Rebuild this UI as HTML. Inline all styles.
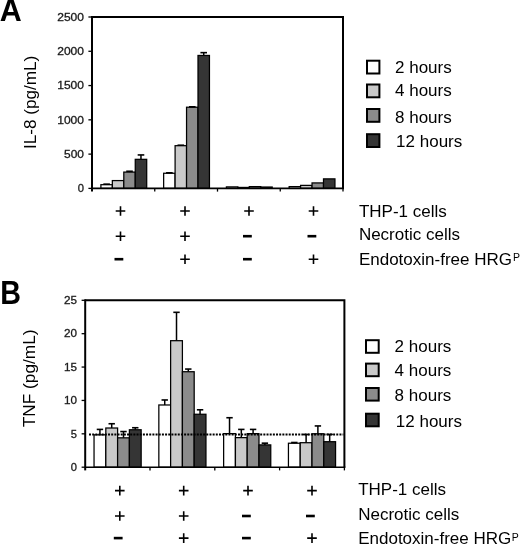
<!DOCTYPE html>
<html><head><meta charset="utf-8"><style>
html,body{margin:0;padding:0;background:#fff;}
body{width:520px;height:545px;overflow:hidden;}
svg{display:block;will-change:transform;}
text{font-family:"Liberation Sans",sans-serif;}
</style></head><body>
<svg width="520" height="545" viewBox="0 0 520 545">
<rect width="520" height="545" fill="#fff"/>
<rect x="100.9" y="184.7" width="11.45" height="3.7" fill="#ffffff" stroke="#000" stroke-width="1.25"/>
<line x1="106.62" y1="184.7" x2="106.62" y2="184.15" stroke="#000" stroke-width="1.5"/>
<line x1="103.33" y1="184.15" x2="109.92" y2="184.15" stroke="#000" stroke-width="1.6"/>
<rect x="112.35" y="180.58" width="11.45" height="7.82" fill="#c9c9c9" stroke="#000" stroke-width="1.25"/>
<rect x="123.8" y="172.08" width="11.45" height="16.32" fill="#8b8b8b" stroke="#000" stroke-width="1.25"/>
<line x1="129.53" y1="172.08" x2="129.53" y2="171.26" stroke="#000" stroke-width="1.5"/>
<line x1="126.23" y1="171.26" x2="132.83" y2="171.26" stroke="#000" stroke-width="1.6"/>
<rect x="135.25" y="159.33" width="11.45" height="29.07" fill="#353535" stroke="#000" stroke-width="1.25"/>
<line x1="140.97" y1="159.33" x2="140.97" y2="154.94" stroke="#000" stroke-width="1.5"/>
<line x1="137.67" y1="154.94" x2="144.28" y2="154.94" stroke="#000" stroke-width="1.6"/>
<rect x="163.65" y="173.25" width="11.45" height="15.15" fill="#ffffff" stroke="#000" stroke-width="1.25"/>
<line x1="169.38" y1="173.25" x2="169.38" y2="172.77" stroke="#000" stroke-width="1.5"/>
<line x1="166.07" y1="172.77" x2="172.68" y2="172.77" stroke="#000" stroke-width="1.6"/>
<rect x="175.1" y="145.69" width="11.45" height="42.71" fill="#c9c9c9" stroke="#000" stroke-width="1.25"/>
<line x1="180.82" y1="145.69" x2="180.82" y2="145.21" stroke="#000" stroke-width="1.5"/>
<line x1="177.52" y1="145.21" x2="184.12" y2="145.21" stroke="#000" stroke-width="1.6"/>
<rect x="186.55" y="107.22" width="11.45" height="81.18" fill="#8b8b8b" stroke="#000" stroke-width="1.25"/>
<line x1="192.28" y1="107.22" x2="192.28" y2="106.81" stroke="#000" stroke-width="1.5"/>
<line x1="188.97" y1="106.81" x2="195.58" y2="106.81" stroke="#000" stroke-width="1.6"/>
<rect x="198" y="55.46" width="11.45" height="132.94" fill="#353535" stroke="#000" stroke-width="1.25"/>
<line x1="203.72" y1="55.46" x2="203.72" y2="52.65" stroke="#000" stroke-width="1.5"/>
<line x1="200.42" y1="52.65" x2="207.03" y2="52.65" stroke="#000" stroke-width="1.6"/>
<rect x="226.4" y="186.89" width="11.45" height="1.51" fill="#ffffff" stroke="#000" stroke-width="1.25"/>
<rect x="237.85" y="187.44" width="11.45" height="0.96" fill="#c9c9c9" stroke="#000" stroke-width="1.25"/>
<rect x="249.3" y="186.62" width="11.45" height="1.78" fill="#8b8b8b" stroke="#000" stroke-width="1.25"/>
<rect x="260.75" y="187.03" width="11.45" height="1.37" fill="#353535" stroke="#000" stroke-width="1.25"/>
<rect x="289.15" y="186.62" width="11.45" height="1.78" fill="#ffffff" stroke="#000" stroke-width="1.25"/>
<rect x="300.6" y="185.38" width="11.45" height="3.02" fill="#c9c9c9" stroke="#000" stroke-width="1.25"/>
<rect x="312.05" y="182.92" width="11.45" height="5.48" fill="#8b8b8b" stroke="#000" stroke-width="1.25"/>
<rect x="323.5" y="178.87" width="11.45" height="9.53" fill="#353535" stroke="#000" stroke-width="1.25"/>
<path d="M92 17H343V188.4" fill="none" stroke="#000" stroke-width="2" stroke-linejoin="miter"/>
<line x1="92" y1="16" x2="92" y2="191.6" stroke="#000" stroke-width="2"/>
<line x1="92" y1="188.4" x2="344" y2="188.4" stroke="#000" stroke-width="1.6"/>
<line x1="154.75" y1="188.4" x2="154.75" y2="191.6" stroke="#000" stroke-width="1.3"/>
<line x1="217.5" y1="188.4" x2="217.5" y2="191.6" stroke="#000" stroke-width="1.3"/>
<line x1="280.25" y1="188.4" x2="280.25" y2="191.6" stroke="#000" stroke-width="1.3"/>
<line x1="343" y1="188.4" x2="343" y2="191.6" stroke="#000" stroke-width="1.3"/>
<line x1="88.4" y1="188.4" x2="92" y2="188.4" stroke="#000" stroke-width="1.3"/>
<text x="84" y="192.3" text-anchor="end" font-size="11" fill="#1a1a1a" stroke="#1a1a1a" stroke-width="0.3" textLength="6.25" lengthAdjust="spacingAndGlyphs">0</text>
<line x1="88.4" y1="154.12" x2="92" y2="154.12" stroke="#000" stroke-width="1.3"/>
<text x="84" y="158.02" text-anchor="end" font-size="11" fill="#1a1a1a" stroke="#1a1a1a" stroke-width="0.3" textLength="19.95" lengthAdjust="spacingAndGlyphs">500</text>
<line x1="88.4" y1="119.84" x2="92" y2="119.84" stroke="#000" stroke-width="1.3"/>
<text x="84" y="123.74" text-anchor="end" font-size="11" fill="#1a1a1a" stroke="#1a1a1a" stroke-width="0.3" textLength="26.8" lengthAdjust="spacingAndGlyphs">1000</text>
<line x1="88.4" y1="85.56" x2="92" y2="85.56" stroke="#000" stroke-width="1.3"/>
<text x="84" y="89.46" text-anchor="end" font-size="11" fill="#1a1a1a" stroke="#1a1a1a" stroke-width="0.3" textLength="26.8" lengthAdjust="spacingAndGlyphs">1500</text>
<line x1="88.4" y1="51.28" x2="92" y2="51.28" stroke="#000" stroke-width="1.3"/>
<text x="84" y="55.18" text-anchor="end" font-size="11" fill="#1a1a1a" stroke="#1a1a1a" stroke-width="0.3" textLength="26.8" lengthAdjust="spacingAndGlyphs">2000</text>
<line x1="88.4" y1="17" x2="92" y2="17" stroke="#000" stroke-width="1.3"/>
<text x="84" y="20.9" text-anchor="end" font-size="11" fill="#1a1a1a" stroke="#1a1a1a" stroke-width="0.3" textLength="26.8" lengthAdjust="spacingAndGlyphs">2500</text>
<text transform="translate(35.8 148.9) rotate(-90)" font-size="17" fill="#000" textLength="93.2" lengthAdjust="spacingAndGlyphs">IL-8 (pg/mL)</text>
<text transform="translate(-0.3 20.8) scale(0.97 1)" font-size="31.4" font-weight="bold" fill="#000">A</text>
<rect x="367" y="60.7" width="12.4" height="12.8" fill="#ffffff" stroke="#000" stroke-width="2"/>
<text x="395" y="73.1" font-size="17" fill="#000">2 hours</text>
<rect x="367" y="84.5" width="12.4" height="12.8" fill="#c9c9c9" stroke="#000" stroke-width="2"/>
<text x="395" y="96.1" font-size="17" fill="#000">4 hours</text>
<rect x="367" y="109" width="12.4" height="12.8" fill="#8b8b8b" stroke="#000" stroke-width="2"/>
<text x="395" y="122.5" font-size="17" fill="#000">8 hours</text>
<rect x="367" y="134.2" width="12.4" height="12.8" fill="#353535" stroke="#000" stroke-width="2"/>
<text x="396.1" y="147.4" font-size="17" fill="#000">12 hours</text>
<path d="M115.7 211H125.3M120.5 206.2V215.8" stroke="#000" stroke-width="1.6" fill="none"/>
<path d="M180.2 211H189.8M185 206.2V215.8" stroke="#000" stroke-width="1.6" fill="none"/>
<path d="M244.2 211H253.8M249 206.2V215.8" stroke="#000" stroke-width="1.6" fill="none"/>
<path d="M308.7 211H318.3M313.5 206.2V215.8" stroke="#000" stroke-width="1.6" fill="none"/>
<text x="358.9" y="217.3" font-size="17" fill="#000">THP-1 cells</text>
<path d="M115.7 236.2H125.3M120.5 231.4V241" stroke="#000" stroke-width="1.6" fill="none"/>
<path d="M180.2 236.2H189.8M185 231.4V241" stroke="#000" stroke-width="1.6" fill="none"/>
<rect x="243" y="234.9" width="8.8" height="2.6" fill="#000"/>
<rect x="307.5" y="234.9" width="8.8" height="2.6" fill="#000"/>
<text x="358.9" y="239.8" font-size="17" fill="#000">Necrotic cells</text>
<rect x="114.5" y="257.9" width="8.8" height="2.6" fill="#000"/>
<path d="M180.2 259.2H189.8M185 254.4V264" stroke="#000" stroke-width="1.6" fill="none"/>
<rect x="243" y="257.9" width="8.8" height="2.6" fill="#000"/>
<path d="M308.7 259.2H318.3M313.5 254.4V264" stroke="#000" stroke-width="1.6" fill="none"/>
<text x="358.9" y="265.3" font-size="17" fill="#000">Endotoxin-free HRG<tspan font-size="10.5" dx="1" dy="-3.9">P</tspan></text>
<rect x="94.04" y="434.82" width="11.78" height="32.38" fill="#ffffff" stroke="#000" stroke-width="1.25"/>
<line x1="99.93" y1="434.82" x2="99.93" y2="429.41" stroke="#000" stroke-width="1.5"/>
<line x1="96.73" y1="429.41" x2="103.13" y2="429.41" stroke="#000" stroke-width="1.6"/>
<rect x="105.82" y="428.01" width="11.78" height="39.19" fill="#c9c9c9" stroke="#000" stroke-width="1.25"/>
<line x1="111.71" y1="428.01" x2="111.71" y2="423.74" stroke="#000" stroke-width="1.5"/>
<line x1="108.51" y1="423.74" x2="114.91" y2="423.74" stroke="#000" stroke-width="1.6"/>
<rect x="117.6" y="437.83" width="11.78" height="29.37" fill="#8b8b8b" stroke="#000" stroke-width="1.25"/>
<line x1="123.49" y1="437.83" x2="123.49" y2="431.55" stroke="#000" stroke-width="1.5"/>
<line x1="120.29" y1="431.55" x2="126.69" y2="431.55" stroke="#000" stroke-width="1.6"/>
<rect x="129.38" y="429.75" width="11.78" height="37.45" fill="#353535" stroke="#000" stroke-width="1.25"/>
<line x1="135.27" y1="429.75" x2="135.27" y2="427.74" stroke="#000" stroke-width="1.5"/>
<line x1="132.07" y1="427.74" x2="138.47" y2="427.74" stroke="#000" stroke-width="1.6"/>
<rect x="158.84" y="404.98" width="11.78" height="62.22" fill="#ffffff" stroke="#000" stroke-width="1.25"/>
<line x1="164.73" y1="404.98" x2="164.73" y2="399.97" stroke="#000" stroke-width="1.5"/>
<line x1="161.53" y1="399.97" x2="167.93" y2="399.97" stroke="#000" stroke-width="1.6"/>
<rect x="170.62" y="340.69" width="11.78" height="126.51" fill="#c9c9c9" stroke="#000" stroke-width="1.25"/>
<line x1="176.51" y1="340.69" x2="176.51" y2="312.32" stroke="#000" stroke-width="1.5"/>
<line x1="173.31" y1="312.32" x2="179.71" y2="312.32" stroke="#000" stroke-width="1.6"/>
<rect x="182.4" y="371.73" width="11.78" height="95.47" fill="#8b8b8b" stroke="#000" stroke-width="1.25"/>
<line x1="188.29" y1="371.73" x2="188.29" y2="369.06" stroke="#000" stroke-width="1.5"/>
<line x1="185.09" y1="369.06" x2="191.49" y2="369.06" stroke="#000" stroke-width="1.6"/>
<rect x="194.18" y="414.26" width="11.78" height="52.94" fill="#353535" stroke="#000" stroke-width="1.25"/>
<line x1="200.07" y1="414.26" x2="200.07" y2="409.79" stroke="#000" stroke-width="1.5"/>
<line x1="196.87" y1="409.79" x2="203.27" y2="409.79" stroke="#000" stroke-width="1.6"/>
<rect x="223.64" y="433.62" width="11.78" height="33.58" fill="#ffffff" stroke="#000" stroke-width="1.25"/>
<line x1="229.53" y1="433.62" x2="229.53" y2="417.73" stroke="#000" stroke-width="1.5"/>
<line x1="226.33" y1="417.73" x2="232.73" y2="417.73" stroke="#000" stroke-width="1.6"/>
<rect x="235.42" y="437.63" width="11.78" height="29.57" fill="#c9c9c9" stroke="#000" stroke-width="1.25"/>
<line x1="241.31" y1="437.63" x2="241.31" y2="429.41" stroke="#000" stroke-width="1.5"/>
<line x1="238.11" y1="429.41" x2="244.51" y2="429.41" stroke="#000" stroke-width="1.6"/>
<rect x="247.2" y="433.62" width="11.78" height="33.58" fill="#8b8b8b" stroke="#000" stroke-width="1.25"/>
<line x1="253.09" y1="433.62" x2="253.09" y2="429.41" stroke="#000" stroke-width="1.5"/>
<line x1="249.89" y1="429.41" x2="256.29" y2="429.41" stroke="#000" stroke-width="1.6"/>
<rect x="258.98" y="444.9" width="11.78" height="22.3" fill="#353535" stroke="#000" stroke-width="1.25"/>
<line x1="264.87" y1="444.9" x2="264.87" y2="443.17" stroke="#000" stroke-width="1.5"/>
<line x1="261.67" y1="443.17" x2="268.07" y2="443.17" stroke="#000" stroke-width="1.6"/>
<rect x="288.44" y="443.23" width="11.78" height="23.97" fill="#ffffff" stroke="#000" stroke-width="1.25"/>
<line x1="294.33" y1="443.23" x2="294.33" y2="442.5" stroke="#000" stroke-width="1.5"/>
<line x1="291.13" y1="442.5" x2="297.53" y2="442.5" stroke="#000" stroke-width="1.6"/>
<rect x="300.22" y="442.7" width="11.78" height="24.5" fill="#c9c9c9" stroke="#000" stroke-width="1.25"/>
<line x1="306.11" y1="442.7" x2="306.11" y2="434.49" stroke="#000" stroke-width="1.5"/>
<line x1="302.91" y1="434.49" x2="309.31" y2="434.49" stroke="#000" stroke-width="1.6"/>
<rect x="312" y="433.75" width="11.78" height="33.45" fill="#8b8b8b" stroke="#000" stroke-width="1.25"/>
<line x1="317.89" y1="433.75" x2="317.89" y2="425.94" stroke="#000" stroke-width="1.5"/>
<line x1="314.69" y1="425.94" x2="321.09" y2="425.94" stroke="#000" stroke-width="1.6"/>
<rect x="323.78" y="441.7" width="11.78" height="25.5" fill="#353535" stroke="#000" stroke-width="1.25"/>
<line x1="329.67" y1="441.7" x2="329.67" y2="434.42" stroke="#000" stroke-width="1.5"/>
<line x1="326.47" y1="434.42" x2="332.87" y2="434.42" stroke="#000" stroke-width="1.6"/>
<line x1="89" y1="434.4" x2="343.4" y2="434.4" stroke="#000" stroke-width="2" stroke-dasharray="2 1.17"/>
<path d="M85.2 300.3H344.4V467.2" fill="none" stroke="#000" stroke-width="2" stroke-linejoin="miter"/>
<line x1="85.2" y1="299.3" x2="85.2" y2="470.4" stroke="#000" stroke-width="2"/>
<line x1="85.2" y1="467.2" x2="345.4" y2="467.2" stroke="#000" stroke-width="1.6"/>
<line x1="150" y1="467.2" x2="150" y2="470.4" stroke="#000" stroke-width="1.3"/>
<line x1="214.8" y1="467.2" x2="214.8" y2="470.4" stroke="#000" stroke-width="1.3"/>
<line x1="279.6" y1="467.2" x2="279.6" y2="470.4" stroke="#000" stroke-width="1.3"/>
<line x1="344.4" y1="467.2" x2="344.4" y2="470.4" stroke="#000" stroke-width="1.3"/>
<line x1="81.6" y1="467.2" x2="85.2" y2="467.2" stroke="#000" stroke-width="1.3"/>
<text x="76.9" y="470.9" text-anchor="end" font-size="11" fill="#1a1a1a" stroke="#1a1a1a" stroke-width="0.3" textLength="6.2" lengthAdjust="spacingAndGlyphs">0</text>
<line x1="81.6" y1="433.82" x2="85.2" y2="433.82" stroke="#000" stroke-width="1.3"/>
<text x="76.9" y="437.52" text-anchor="end" font-size="11" fill="#1a1a1a" stroke="#1a1a1a" stroke-width="0.3" textLength="6.2" lengthAdjust="spacingAndGlyphs">5</text>
<line x1="81.6" y1="400.44" x2="85.2" y2="400.44" stroke="#000" stroke-width="1.3"/>
<text x="76.9" y="404.14" text-anchor="end" font-size="11" fill="#1a1a1a" stroke="#1a1a1a" stroke-width="0.3" textLength="13" lengthAdjust="spacingAndGlyphs">10</text>
<line x1="81.6" y1="367.06" x2="85.2" y2="367.06" stroke="#000" stroke-width="1.3"/>
<text x="76.9" y="370.76" text-anchor="end" font-size="11" fill="#1a1a1a" stroke="#1a1a1a" stroke-width="0.3" textLength="13" lengthAdjust="spacingAndGlyphs">15</text>
<line x1="81.6" y1="333.68" x2="85.2" y2="333.68" stroke="#000" stroke-width="1.3"/>
<text x="76.9" y="337.38" text-anchor="end" font-size="11" fill="#1a1a1a" stroke="#1a1a1a" stroke-width="0.3" textLength="13" lengthAdjust="spacingAndGlyphs">20</text>
<line x1="81.6" y1="300.3" x2="85.2" y2="300.3" stroke="#000" stroke-width="1.3"/>
<text x="76.9" y="304" text-anchor="end" font-size="11" fill="#1a1a1a" stroke="#1a1a1a" stroke-width="0.3" textLength="13" lengthAdjust="spacingAndGlyphs">25</text>
<text transform="translate(35.2 427.3) rotate(-90)" font-size="17" fill="#000" textLength="97.8" lengthAdjust="spacingAndGlyphs">TNF (pg/mL)</text>
<text transform="translate(0.3 303.9) scale(0.88 1)" font-size="32.6" font-weight="bold" fill="#000">B</text>
<rect x="366" y="340.2" width="12.7" height="12.6" fill="#ffffff" stroke="#000" stroke-width="2"/>
<text x="394.6" y="352.1" font-size="17" fill="#000">2 hours</text>
<rect x="366" y="363.6" width="12.7" height="12.6" fill="#c9c9c9" stroke="#000" stroke-width="2"/>
<text x="394.6" y="375.5" font-size="17" fill="#000">4 hours</text>
<rect x="366" y="388" width="12.7" height="12.6" fill="#8b8b8b" stroke="#000" stroke-width="2"/>
<text x="394.6" y="401.1" font-size="17" fill="#000">8 hours</text>
<rect x="366" y="413.7" width="12.7" height="12.6" fill="#353535" stroke="#000" stroke-width="2"/>
<text x="395.8" y="426.6" font-size="17" fill="#000">12 hours</text>
<path d="M115 490.6H124.6M119.8 485.8V495.4" stroke="#000" stroke-width="1.6" fill="none"/>
<path d="M178.9 490.6H188.5M183.7 485.8V495.4" stroke="#000" stroke-width="1.6" fill="none"/>
<path d="M243.2 490.6H252.8M248 485.8V495.4" stroke="#000" stroke-width="1.6" fill="none"/>
<path d="M307.2 490.6H316.8M312 485.8V495.4" stroke="#000" stroke-width="1.6" fill="none"/>
<text x="358.2" y="494.9" font-size="17" fill="#000">THP-1 cells</text>
<path d="M115 516H124.6M119.8 511.2V520.8" stroke="#000" stroke-width="1.6" fill="none"/>
<path d="M178.9 516H188.5M183.7 511.2V520.8" stroke="#000" stroke-width="1.6" fill="none"/>
<rect x="242" y="514.7" width="8.8" height="2.6" fill="#000"/>
<rect x="306" y="514.7" width="8.8" height="2.6" fill="#000"/>
<text x="358.2" y="520" font-size="17" fill="#000">Necrotic cells</text>
<rect x="113.8" y="536.8" width="8.8" height="2.6" fill="#000"/>
<path d="M178.9 538.1H188.5M183.7 533.3V542.9" stroke="#000" stroke-width="1.6" fill="none"/>
<rect x="242" y="536.8" width="8.8" height="2.6" fill="#000"/>
<path d="M307.2 538.1H316.8M312 533.3V542.9" stroke="#000" stroke-width="1.6" fill="none"/>
<text x="358.2" y="544.3" font-size="17" fill="#000">Endotoxin-free HRG<tspan font-size="10.5" dx="0.5" dy="-3.4">P</tspan></text>
</svg>
</body></html>
